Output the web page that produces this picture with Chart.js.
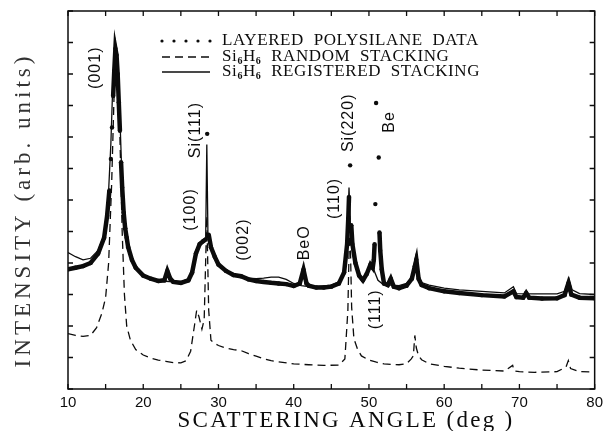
<!DOCTYPE html>
<html>
<head>
<meta charset="utf-8">
<script src="https://cdn.jsdelivr.net/npm/chart.js@4.4.1/dist/chart.umd.min.js"></script>
<style>
  html, body { margin: 0; padding: 0; background: #fff; }
  #wrap { width: 608px; height: 431px; }
</style>
</head>
<body>
<div id="wrap"><canvas id="xrd" width="608" height="431"></canvas></div>
<script>
// values: scattering angle (deg) vs intensity (arb. units)
const dataAngle = [10, 11, 12, 13, 14, 14.8, 15.2, 15.5, 15.7, 15.85, 16.0, 16.15, 16.3, 16.45, 16.6, 16.75, 16.9, 17.05, 17.2, 17.4, 17.6, 17.8, 18, 18.5, 19, 20, 21, 22, 22.8, 23.2, 23.6, 24, 25, 26, 26.5, 27, 27.5, 28.0, 28.3, 28.5, 28.7, 29, 29.5, 30, 31, 32, 33, 34, 35, 36, 37, 38, 39, 40, 40.8, 41.3, 41.7, 42, 43, 44, 45, 46, 46.7, 47.1, 47.25, 47.35, 47.5, 47.65, 47.8, 48.2, 48.7, 49.2, 49.7, 50.2, 50.5, 50.65, 50.75, 50.85, 50.95, 51.3, 51.4, 51.5, 51.7, 52, 52.5, 52.9, 53.3, 54, 55, 55.7, 56.1, 56.3, 56.6, 57, 58, 60, 62, 65, 68, 69.2, 69.6, 70.5, 70.9, 71.3, 73, 75, 76, 76.5, 76.9, 78, 80];
const dataIntensity = [3.8, 3.85, 3.9, 4.0, 4.3, 4.8, 5.5, 6.3, 7.3, 8.3, 9.3, 10.1, 10.8, 10.6, 10.0, 9.1, 8.2, 7.2, 6.4, 5.6, 5.1, 4.8, 4.5, 4.1, 3.85, 3.6, 3.5, 3.43, 3.45, 3.75, 3.5, 3.4, 3.37, 3.45, 3.7, 4.3, 4.6, 4.7, 4.75, 8.1, 4.9, 4.5, 4.2, 3.95, 3.75, 3.62, 3.58, 3.48, 3.43, 3.4, 3.37, 3.35, 3.33, 3.27, 3.35, 3.79, 3.35, 3.28, 3.22, 3.22, 3.25, 3.35, 3.7, 4.6, 5.4, 6.1, 7.1, 5.2, 4.6, 4.0, 3.6, 3.45, 3.65, 3.95, 3.85, 4.1, 4.6, 5.87, 9.08, 7.35, 4.97, 4.4, 3.8, 3.35, 3.3, 3.5, 3.25, 3.2, 3.28, 3.5, 3.9, 4.1, 3.5, 3.3, 3.2, 3.1, 3.05, 2.98, 2.94, 3.1, 2.92, 2.9, 3.05, 2.9, 2.87, 2.88, 2.98, 3.35, 3.0, 2.9, 2.88];

const regAngle = [10, 11, 12, 13, 14, 14.8, 15.3, 15.7, 16.0, 16.3, 16.6, 16.9, 17.2, 17.6, 18, 18.5, 19, 20, 21, 22, 23, 24, 25, 26, 26.5, 27, 27.5, 28, 28.3, 28.45, 28.6, 29, 29.5, 30, 31, 32, 33, 34, 35, 36, 37, 38, 39, 40, 41, 42, 43, 44, 45, 46, 46.7, 47.1, 47.35, 47.6, 48, 48.5, 49, 49.5, 50, 50.3, 50.7, 51.2, 52, 53, 54, 55, 55.7, 56.2, 56.6, 57, 58, 60, 62, 65, 68, 69.2, 69.6, 72, 75, 76, 76.6, 77.0, 78, 80];
const regIntensity = [4.33, 4.2, 4.1, 4.15, 4.4, 4.9, 5.8, 7.8, 10.0, 11.0, 10.5, 8.6, 6.5, 5.1, 4.5, 4.1, 3.85, 3.62, 3.5, 3.45, 3.42, 3.4, 3.4, 3.5, 3.8, 4.4, 4.65, 4.72, 4.8, 7.76, 4.9, 4.5, 4.2, 3.95, 3.75, 3.65, 3.6, 3.52, 3.5, 3.52, 3.55, 3.55, 3.48, 3.35, 3.28, 3.25, 3.25, 3.27, 3.3, 3.4, 3.75, 4.6, 6.4, 4.8, 4.1, 3.7, 3.5, 3.6, 3.85, 3.95, 3.75, 3.45, 3.3, 3.3, 3.28, 3.35, 3.55, 4.2, 3.55, 3.38, 3.3, 3.2, 3.15, 3.1, 3.05, 3.25, 3.03, 3.02, 3.02, 3.1, 3.5, 3.15, 3.03, 3.0];

const randAngle = [10, 11, 12, 13, 13.8, 14.5, 15, 15.4, 15.8, 16.2, 16.5, 16.9, 17.2, 17.5, 17.8, 18.3, 19, 20, 21, 22, 23, 24, 25, 25.7, 26.3, 26.8, 27.1, 27.4, 27.8, 28.1, 28.45, 28.7, 29, 29.5, 30, 31, 32, 33, 34, 35, 36, 37, 38, 40, 42, 44, 46, 46.8, 47.2, 47.45, 47.7, 48, 48.5, 49, 50, 51, 52, 53, 54, 55, 55.6, 55.9, 56.1, 56.3, 56.6, 57, 58, 60, 62, 65, 68, 69.1, 69.3, 70, 72, 75, 76.2, 76.5, 76.8, 78, 80];
const randIntensity = [1.76, 1.7, 1.67, 1.7, 1.95, 2.4, 2.9, 4.0, 6.5, 10.0, 10.2, 8.0, 5.0, 3.0, 2.0, 1.55, 1.25, 1.08, 0.98, 0.92, 0.88, 0.84, 0.83, 0.9, 1.2, 2.0, 2.5, 2.3, 1.9, 2.2, 5.5, 2.5, 1.55, 1.45, 1.38, 1.3, 1.25, 1.22, 1.12, 1.04, 0.96, 0.9, 0.86, 0.8, 0.77, 0.75, 0.76, 0.95, 2.5, 5.5, 2.6, 1.6, 1.25, 1.05, 0.92, 0.85, 0.8, 0.78, 0.77, 0.8, 0.95, 1.05, 1.7, 1.3, 1.05, 0.93, 0.8, 0.72, 0.66, 0.6, 0.57, 0.75, 0.57, 0.55, 0.53, 0.55, 0.7, 0.9, 0.65, 0.55, 0.54];

const angleLabels = [10, 20, 30, 40, 50, 60, 70, 80];
const peakNames = ["(001)", "Si(111)", "(100)", "(002)", "BeO", "(110)", "Si(220)", "Be", "(111)"];
const peakAngle = [13.7, 26.9, 26.3, 33.4, 41.4, 45.5, 47.3, 52.7, 50.9];
const peakHeight = [10.2, 8.22, 5.7, 4.74, 4.64, 6.05, 8.45, 8.48, 2.53];

const toPoints = (xs, ys) => xs.map((x, i) => ({ x: x, y: ys[i] }));
const INK = '#0c0c0c';
const serif = '"Liberation Serif", "Times New Roman", serif';
const sans = '"Liberation Sans", Arial, sans-serif';

const framePlugin = {
  id: 'frame',
  afterDraw(chart) {
    const { ctx, chartArea: a, scales: { x, y } } = chart;
    ctx.save();
    ctx.strokeStyle = INK;
    ctx.fillStyle = INK;

    // box + inward ticks
    ctx.lineWidth = 1.5;
    ctx.strokeRect(a.left, a.top, a.right - a.left, a.bottom - a.top);
    ctx.lineWidth = 1.3;
    ctx.beginPath();
    x.ticks.forEach(t => {
      const px = x.getPixelForValue(t.value);
      ctx.moveTo(px, a.bottom); ctx.lineTo(px, a.bottom - 5);
      ctx.moveTo(px, a.top); ctx.lineTo(px, a.top + 5);
    });
    y.ticks.forEach(t => {
      const py = y.getPixelForValue(t.value);
      ctx.moveTo(a.left, py); ctx.lineTo(a.left + 5, py);
      ctx.moveTo(a.right, py); ctx.lineTo(a.right - 5, py);
    });
    ctx.stroke();

    // peak labels, rotated
    ctx.font = '16px ' + sans;
    ctx.textAlign = 'center';
    ctx.textBaseline = 'middle';
    ctx.letterSpacing = '1px';
    peakNames.forEach((name, i) => {
      ctx.save();
      ctx.translate(x.getPixelForValue(peakAngle[i]), y.getPixelForValue(peakHeight[i]));
      ctx.rotate(-Math.PI / 2);
      ctx.fillText(name, 0, 0);
      ctx.restore();
    });

    // axis titles
    ctx.font = '23px ' + serif;
    ctx.letterSpacing = '2.3px';
    ctx.fillText('SCATTERING ANGLE (deg )', 346, 421);
    ctx.save();
    ctx.translate(24, 210);
    ctx.rotate(-Math.PI / 2);
    ctx.font = '23px ' + serif;
    ctx.fillStyle = '#333';
    ctx.letterSpacing = '4px';
    ctx.fillText('INTENSITY (arb. units)', 0, 0);
    ctx.restore();

    // legend
    const rows = [41, 57, 72];
    const x0 = 162, x1 = 210, tx = 222;
    ctx.lineWidth = 1.3;
    for (let k = 0; k < 5; k++) {
      ctx.beginPath();
      ctx.arc(x0 + k * 12, rows[0], 1.6, 0, Math.PI * 2);
      ctx.fill();
    }
    ctx.setLineDash([8, 5]);
    ctx.beginPath(); ctx.moveTo(x0, rows[1]); ctx.lineTo(x1, rows[1]); ctx.stroke();
    ctx.setLineDash([]);
    ctx.beginPath(); ctx.moveTo(x0, rows[2]); ctx.lineTo(x1, rows[2]); ctx.stroke();

    ctx.textAlign = 'left';
    ctx.textBaseline = 'middle';
    ctx.letterSpacing = '0.6px';
    const big = '17px ' + serif, small = 'bold 10px ' + serif;
    ctx.font = big;
    ctx.fillText('LAYERED  POLYSILANE  DATA', tx, rows[0]);
    const siH = (rest, row) => {
      let cx = tx;
      [['Si', 0], ['6', 1], ['H', 0], ['6', 1], ['  ' + rest, 0]].forEach(([s, sub]) => {
        ctx.font = sub ? small : big;
        ctx.fillText(s, cx, row + (sub ? 4 : 0));
        cx += ctx.measureText(s).width;
      });
    };
    siH('RANDOM  STACKING', rows[1]);
    siH('REGISTERED  STACKING', rows[2]);
    ctx.restore();
  }
};

const steep = c => Math.abs(c.p1.parsed.y - c.p0.parsed.y) > 0.95;

new Chart(document.getElementById('xrd'), {
  type: 'scatter',
  data: {
    datasets: [
      {
        label: 'LAYERED POLYSILANE DATA',
        data: toPoints(dataAngle, dataIntensity),
        showLine: true,
        borderColor: INK,
        backgroundColor: INK,
        borderWidth: 4.5,
        pointRadius: 2.2,
        pointBorderWidth: 0,
        segment: { borderColor: c => steep(c) ? 'transparent' : INK },
        order: 3
      },
      {
        label: 'Si6H6 RANDOM STACKING',
        data: toPoints(randAngle, randIntensity),
        showLine: true,
        borderColor: INK,
        borderWidth: 1.3,
        borderDash: [8, 5],
        pointRadius: 0,
        order: 2
      },
      {
        label: 'Si6H6 REGISTERED STACKING',
        data: toPoints(regAngle, regIntensity),
        showLine: true,
        borderColor: INK,
        borderWidth: 1.3,
        pointRadius: 0,
        order: 1
      }
    ]
  },
  options: {
    responsive: false,
    animation: false,
    events: [],
    layout: { padding: { left: 68, right: 11, top: 11, bottom: 14 } },
    plugins: { legend: { display: false }, tooltip: { enabled: false } },
    scales: {
      x: {
        type: 'linear', min: 10, max: 80,
        grid: { display: false, drawTicks: false },
        border: { display: false },
        ticks: {
          stepSize: 5, autoSkip: false, maxRotation: 0, padding: 5, color: INK,
          font: { family: sans, size: 15 },
          callback: v => angleLabels.includes(v) ? String(v) : ''
        }
      },
      y: {
        min: 0, max: 12,
        grid: { display: false, drawTicks: false },
        border: { display: false },
        ticks: { stepSize: 1, display: false }
      }
    }
  },
  plugins: [framePlugin]
});
</script>
</body>
</html>
